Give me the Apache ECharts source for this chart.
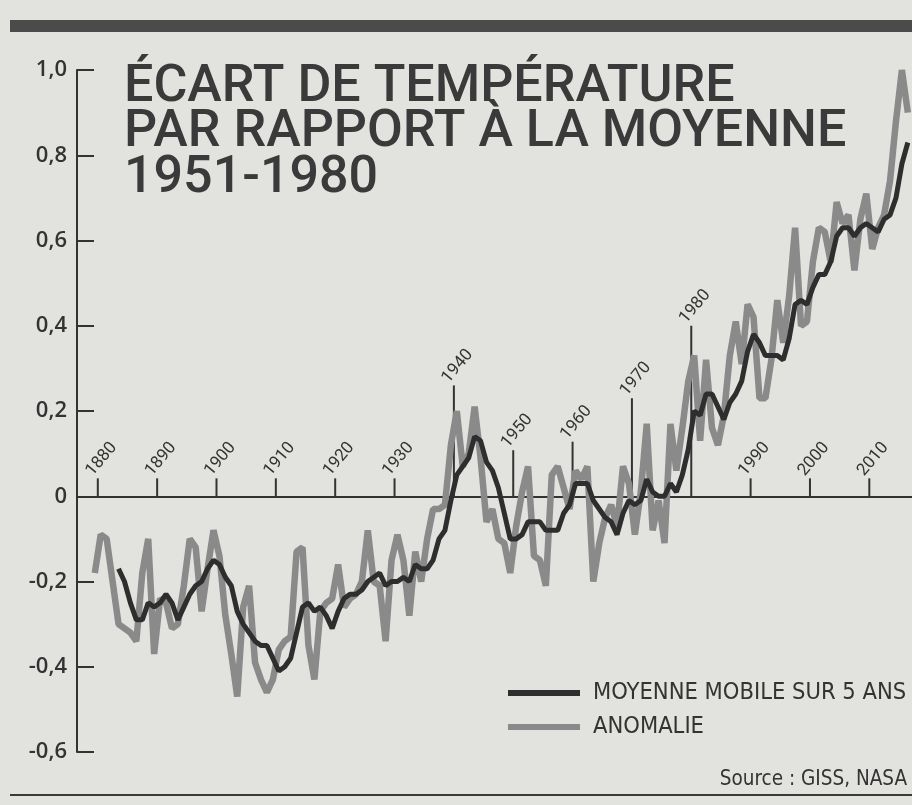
<!DOCTYPE html>
<html>
<head>
<meta charset="utf-8">
<title>Écart de température</title>
<script src="https://cdn.jsdelivr.net/npm/echarts@6/dist/echarts.min.js"></script>
<style>
  html, body { margin: 0; padding: 0; background: #e2e2df; }
  #chart { width: 912px; height: 805px; }
</style>
</head>
<body>
<div id="chart"></div>
<script>
"use strict";

// GISS annual anomaly, 1880-2017
const firstYear = 1880;
const anomaly = [
  -0.18, -0.09, -0.10, -0.20, -0.30, -0.31, -0.32, -0.34, -0.18, -0.10,
  -0.37, -0.24, -0.25, -0.31, -0.30, -0.21, -0.10, -0.12, -0.27, -0.17,
  -0.08, -0.14, -0.28, -0.37, -0.47, -0.26, -0.21, -0.39, -0.43, -0.46,
  -0.43, -0.36, -0.34, -0.33, -0.13, -0.12, -0.35, -0.43, -0.27, -0.25,
  -0.24, -0.16, -0.26, -0.24, -0.23, -0.20, -0.08, -0.20, -0.21, -0.34,
  -0.15, -0.09, -0.15, -0.28, -0.13, -0.20, -0.10, -0.03, -0.03, -0.02,
  0.12, 0.20, 0.07, 0.10, 0.21, 0.09, -0.06, -0.03, -0.10, -0.11,
  -0.18, -0.07, 0.01, 0.07, -0.14, -0.15, -0.21, 0.05, 0.07, 0.02,
  -0.03, 0.06, 0.04, 0.07, -0.20, -0.11, -0.05, -0.02, -0.07, 0.07,
  0.03, -0.09, 0.01, 0.17, -0.08, -0.01, -0.11, 0.17, 0.06, 0.16,
  0.27, 0.33, 0.13, 0.32, 0.16, 0.12, 0.19, 0.33, 0.41, 0.31,
  0.45, 0.42, 0.23, 0.23, 0.32, 0.46, 0.36, 0.47, 0.63, 0.40,
  0.41, 0.55, 0.63, 0.62, 0.55, 0.69, 0.64, 0.66, 0.53, 0.65,
  0.71, 0.58, 0.63, 0.66, 0.74, 0.88, 1.00, 0.90
];

// 5-year moving average, 1884-2017
const avgFirstYear = 1884;
const movingAvg = [
  -0.17, -0.20, -0.25, -0.29, -0.29, -0.25,
  -0.26, -0.25, -0.23, -0.25, -0.29, -0.26, -0.23, -0.21, -0.20, -0.17,
  -0.15, -0.16, -0.19, -0.21, -0.27, -0.30, -0.32, -0.34, -0.35, -0.35,
  -0.38, -0.41, -0.40, -0.38, -0.32, -0.26, -0.25, -0.27, -0.26, -0.28,
  -0.31, -0.27, -0.24, -0.23, -0.23, -0.22, -0.20, -0.19, -0.18, -0.21,
  -0.20, -0.20, -0.19, -0.20, -0.16, -0.17, -0.17, -0.15, -0.10, -0.08,
  -0.01, 0.05, 0.07, 0.09, 0.14, 0.13, 0.08, 0.06, 0.02, -0.04,
  -0.10, -0.10, -0.09, -0.06, -0.06, -0.06, -0.08, -0.08, -0.08, -0.04,
  -0.02, 0.03, 0.03, 0.03, -0.01, -0.03, -0.05, -0.06, -0.09, -0.04,
  -0.01, -0.02, -0.01, 0.04, 0.01, 0.00, 0.00, 0.03, 0.01, 0.05,
  0.11, 0.20, 0.19, 0.24, 0.24, 0.21, 0.18, 0.22, 0.24, 0.27,
  0.34, 0.38, 0.36, 0.33, 0.33, 0.33, 0.32, 0.37, 0.45, 0.46,
  0.45, 0.49, 0.52, 0.52, 0.55, 0.61, 0.63, 0.63, 0.61, 0.63,
  0.64, 0.63, 0.62, 0.65, 0.66, 0.70, 0.78, 0.83
];

// decade labels on the zero line
const decades = [1880, 1890, 1900, 1910, 1920, 1930, 1940, 1950, 1960, 1970, 1980, 1990, 2000, 2010];

const seriesNames = ["MOYENNE MOBILE SUR 5 ANS", "ANOMALIE"];

/**
 * How far (in degrees C) each decade tick rises above the zero line,
 * some are stretched so the label clears the curves
 */
const tickRise = { 1940: 0.26, 1950: 0.108, 1960: 0.128, 1970: 0.23, 1980: 0.40 };
const defaultRise = 0.042;

const INK = "#333333";
const NARROW = "'DejaVu Sans Condensed', 'Liberation Sans Narrow', sans-serif";

function pairs(startYear, values) {
  return values.map((v, i) => [startYear + i, v]);
}

function formatY(v) {
  if (v === 0) return "0";
  return v.toFixed(1).replace(".", ",");
}

/**
 * Draw one decade tick with its slanted label
 */
function renderDecadeTick(params, api) {
  const year = api.value(0);
  const base = api.coord([year, 0]);
  const top = api.coord([year, api.value(1)]);
  // printed ticks sit a little right of the data years
  const x = base[0] + 3;
  return {
    type: "group",
    children: [
      {
        type: "line",
        shape: { x1: x, y1: base[1], x2: x, y2: top[1] },
        style: { stroke: INK, lineWidth: 2 },
      },
      {
        type: "text",
        x: x - 2,
        y: top[1] + 1,
        rotation: (50 * Math.PI) / 180,
        style: {
          text: String(year),
          fill: INK,
          font: "17px Roboto, sans-serif",
          align: "left",
          verticalAlign: "bottom",
        },
      },
    ],
  };
}

const chart = echarts.init(document.getElementById("chart"));

const option = {
  backgroundColor: "#e2e2df",
  animation: false,
  title: [
    {
      text: "ÉCART DE TEMPÉRATURE\nPAR RAPPORT À LA MOYENNE\n1951-1980",
      left: 119,
      top: 60,
      textStyle: {
        color: "#3a3a3a",
        fontFamily: "Roboto, sans-serif",
        fontWeight: 500,
        fontSize: 52,
        lineHeight: 45.5,
      },
    },
    {
      text: "Source : GISS, NASA",
      right: 0,
      top: 764,
      textStyle: {
        color: INK,
        fontFamily: NARROW,
        fontWeight: "normal",
        fontSize: 20.5,
      },
    },
  ],
  legend: {
    orient: "vertical",
    left: 503,
    top: 676,
    itemWidth: 72,
    itemHeight: 6,
    itemGap: 10,
    icon: "rect",
    data: seriesNames,
    textStyle: {
      color: INK,
      fontFamily: NARROW,
      fontSize: 23.5,
      padding: [0, 0, 0, 8],
    },
  },
  grid: { left: 77, right: 0, top: 70, bottom: 53 },
  xAxis: {
    type: "value",
    min: 1877,
    max: 2017.7,
    axisLine: { onZero: true, lineStyle: { color: INK, width: 2 } },
    axisTick: { show: false },
    axisLabel: { show: false },
    splitLine: { show: false },
  },
  yAxis: {
    type: "value",
    min: -0.6,
    max: 1.0,
    interval: 0.2,
    axisLine: { show: true, lineStyle: { color: INK, width: 2 } },
    axisTick: { show: true, inside: true, length: 17, lineStyle: { color: INK, width: 2 } },
    axisLabel: {
      formatter: formatY,
      color: INK,
      fontFamily: "'Open Sans', sans-serif",
      fontWeight: 600,
      fontSize: 22,
      margin: 10,
    },
    splitLine: { show: false },
  },
  graphic: [
    { type: "rect", shape: { x: 10, y: 20, width: 902, height: 12 }, style: { fill: "#4b4b4b" } },
    { type: "rect", shape: { x: 10, y: 794, width: 902, height: 2 }, style: { fill: "#3a3a3a" } },
  ],
  series: [
    {
      name: "ticks",
      type: "custom",
      renderItem: renderDecadeTick,
      data: decades.map((d) => [d, tickRise[d] || defaultRise]),
      silent: true,
      z: 1,
    },
    {
      name: seriesNames[1],
      type: "line",
      data: pairs(firstYear, anomaly),
      showSymbol: false,
      itemStyle: { color: "#8a8a8a" },
      lineStyle: { color: "#8a8a8a", width: 6.5 },
      z: 2,
    },
    {
      name: seriesNames[0],
      type: "line",
      data: pairs(avgFirstYear, movingAvg),
      showSymbol: false,
      itemStyle: { color: "#2e2e2e" },
      lineStyle: { color: "#2e2e2e", width: 5 },
      z: 3,
    },
  ],
};

chart.setOption(option);
</script>
</body>
</html>
